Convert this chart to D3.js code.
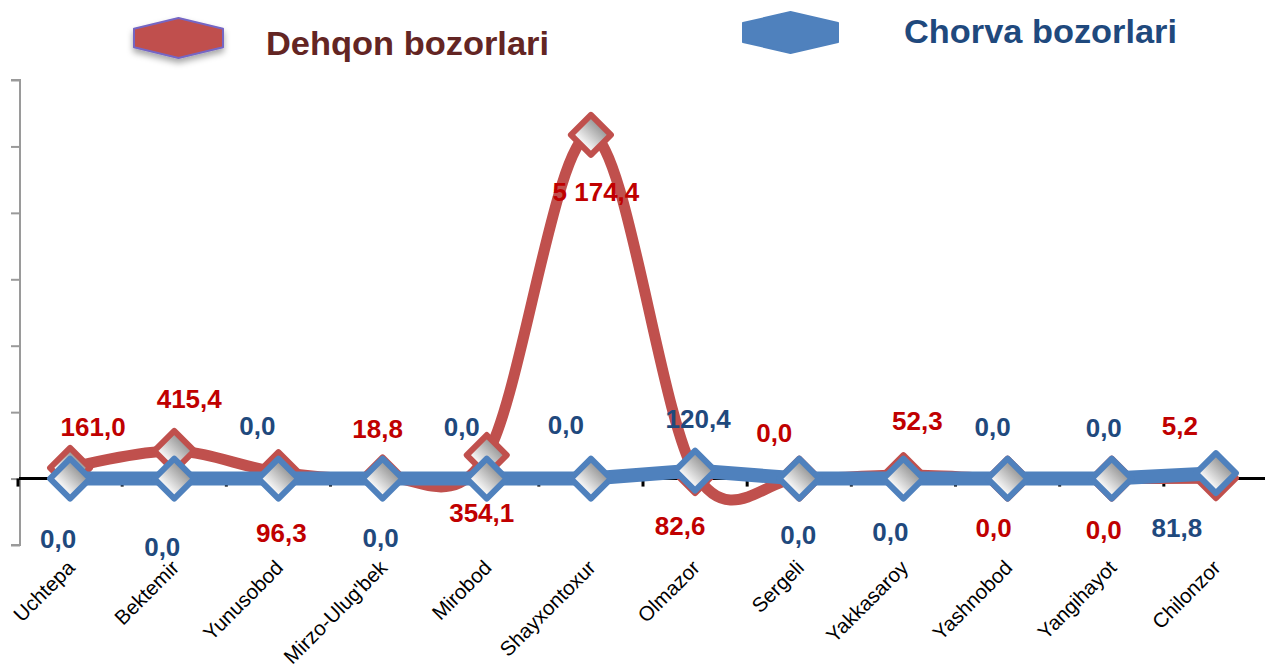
<!DOCTYPE html>
<html>
<head>
<meta charset="utf-8">
<script src="https://cdn.jsdelivr.net/npm/d3@7/dist/d3.min.js"></script>
<style>
  html, body { margin: 0; padding: 0; background: #ffffff; }
  svg { display: block; }
  text { font-family: "Liberation Sans", Arial, sans-serif; }
</style>
</head>
<body>
<svg id="chart" width="1265" height="666"></svg>
<script>
// ---------- data ----------
const categories = ["Uchtepa", "Bektemir", "Yunusobod", "Mirzo-Ulug'bek", "Mirobod", "Shayxontoxur",
                    "Olmazor", "Sergeli", "Yakkasaroy", "Yashnobod", "Yangihayot", "Chilonzor"];
const seriesNames = ["Dehqon bozorlari", "Chorva bozorlari"];
const dehqonValues = [161.0, 415.4, 96.3, 18.8, 354.1, 5174.4, 82.6, 0.0, 52.3, 0.0, 0.0, 5.2];
const chorvaValues = [0.0, 0.0, 0.0, 0.0, 0.0, 0.0, 120.4, 0.0, 0.0, 0.0, 0.0, 81.8];
const yTicks = [-1000, 0, 1000, 2000, 3000, 4000, 5000, 6000];

// label placement (offset from the data point, px)
const dehqonLabelOffsets = [[23,-41],[15,-52],[3,60],[-5,-49],[-5,58],[5,57],[-15,53],[-25,-46],[14,-54],[-14,49],[-8,51],[-36,-53]];
const chorvaLabelOffsets = [[-12,60],[-12,68],[-21,-53],[-2,59],[-25,-52],[-25,-54],[3,-52],[-1,56],[-13,53],[-15,-52],[-8,-51],[-39,55]];

// ---------- setup ----------
const svg = d3.select("#chart");
const RED = "#c0504d", BLUE = "#4f81bd";
const fmt = d3.formatLocale({decimal: ",", thousands: " ", grouping: [3], currency: ["", ""]}).format(",.1f");

const x = d3.scaleBand().domain(categories).range([18, 1268]).padding(0);
const cx = d => x(d) + x.bandwidth() / 2;
const y = d3.scaleLinear().domain([-1000, 6000]).range([545, 80]);

const defs = svg.append("defs");
const grad = defs.append("linearGradient").attr("id", "mfill")
  .attr("x1", "0%").attr("y1", "100%").attr("x2", "100%").attr("y2", "0%");
grad.append("stop").attr("offset", "0%").attr("stop-color", "#ffffff");
grad.append("stop").attr("offset", "30%").attr("stop-color", "#f6f6f6");
grad.append("stop").attr("offset", "100%").attr("stop-color", "#5c5c5c");
const sh = defs.append("filter").attr("id", "shadow").attr("x", "-20%").attr("y", "-20%").attr("width", "140%").attr("height", "160%");
sh.append("feDropShadow").attr("dx", 0).attr("dy", 4).attr("stdDeviation", 3).attr("flood-color", "#000").attr("flood-opacity", 0.35);

// ---------- y axis ----------
const yAxis = d3.axisLeft(y).tickValues(yTicks).tickSize(9).tickFormat("");
const gy = svg.append("g").attr("transform", "translate(20,0)").call(yAxis);
gy.select(".domain").attr("stroke", "#9a9a9a").attr("stroke-width", 2).attr("d", `M-9,${y(-1000)}H0V${y(6000)}H-9`);
gy.selectAll(".tick line").attr("stroke", "#9a9a9a").attr("stroke-width", 2);

// ---------- x axis at zero ----------
const xAxis = d3.axisBottom(x).tickSize(0).tickFormat("");
const gx = svg.append("g").attr("transform", `translate(0,${y(0)})`).call(xAxis);
gx.select(".domain").attr("stroke", "#000").attr("stroke-width", 3).attr("d", "M19,0H1265");
// band boundary tick marks
svg.append("g").selectAll("line").data(categories).join("line")
  .attr("x1", d => x(d)).attr("x2", d => x(d))
  .attr("y1", y(0)).attr("y2", y(0) + 8)
  .attr("stroke", "#000").attr("stroke-width", 3);

// category labels
svg.append("g").selectAll("text").data(categories).join("text")
  .attr("transform", d => `translate(${cx(d) + 6},${569}) rotate(-45)`)
  .attr("text-anchor", "end")
  .attr("font-size", 20.5)
  .attr("fill", "#000")
  .text(d => d);

// ---------- lines ----------
const redLine = d3.line().x((d, i) => cx(categories[i])).y(d => y(d)).curve(d3.curveCardinal.tension(0));
const blueLine = d3.line().x((d, i) => cx(categories[i])).y(d => y(d));

const diamond = r => `M0,${-r}L${r},0L0,${r}L${-r},0Z`;

svg.append("path").datum(dehqonValues).attr("d", redLine)
  .attr("fill", "none").attr("stroke", RED).attr("stroke-width", 11).attr("stroke-linejoin", "round");
svg.append("g").selectAll("path").data(dehqonValues).join("path")
  .attr("transform", (d, i) => `translate(${cx(categories[i])},${y(d)})`)
  .attr("d", diamond(20))
  .attr("fill", "url(#mfill)").attr("stroke", RED).attr("stroke-width", 6).attr("stroke-linejoin", "round");

svg.append("path").datum(chorvaValues).attr("d", blueLine)
  .attr("fill", "none").attr("stroke", BLUE).attr("stroke-width", 14).attr("stroke-linejoin", "round");
svg.append("g").selectAll("path").data(chorvaValues).join("path")
  .attr("transform", (d, i) => `translate(${cx(categories[i])},${y(d)})`)
  .attr("d", diamond(20))
  .attr("fill", "url(#mfill)").attr("stroke", BLUE).attr("stroke-width", 6).attr("stroke-linejoin", "round");

// ---------- data labels ----------
svg.append("g").selectAll("text").data(dehqonValues).join("text")
  .attr("x", (d, i) => cx(categories[i]) + dehqonLabelOffsets[i][0])
  .attr("y", (d, i) => y(d) + dehqonLabelOffsets[i][1])
  .attr("dy", "0.36em").attr("text-anchor", "middle")
  .attr("font-size", 26).attr("font-weight", "bold").attr("fill", "#c00000")
  .text(d => fmt(d));
svg.append("g").selectAll("text").data(chorvaValues).join("text")
  .attr("x", (d, i) => cx(categories[i]) + chorvaLabelOffsets[i][0])
  .attr("y", (d, i) => y(d) + chorvaLabelOffsets[i][1])
  .attr("dy", "0.36em").attr("text-anchor", "middle")
  .attr("font-size", 26).attr("font-weight", "bold").attr("fill", "#1f497d")
  .text(d => fmt(d));

// ---------- legend ----------
const hex = (x0, y0, w, h) => {
  const m = h * 0.27;
  return `M${x0},${y0 + m}L${x0 + w / 2},${y0}L${x0 + w},${y0 + m}L${x0 + w},${y0 + h - m}L${x0 + w / 2},${y0 + h}L${x0},${y0 + h - m}Z`;
};
const legend = svg.append("g");
legend.append("path").attr("d", hex(134, 18, 89, 40))
  .attr("fill", RED).attr("stroke", "#7566c4").attr("stroke-width", 2).attr("stroke-linejoin", "round")
  .attr("filter", "url(#shadow)");
legend.append("text").attr("x", 266).attr("y", 55)
  .attr("font-size", 33).attr("font-weight", "bold").attr("fill", "#632523")
  .attr("textLength", 283).attr("lengthAdjust", "spacingAndGlyphs")
  .text(seriesNames[0]);
legend.append("path").attr("d", hex(743, 12, 95, 41))
  .attr("fill", BLUE).attr("stroke", BLUE).attr("stroke-width", 2).attr("stroke-linejoin", "round");
legend.append("text").attr("x", 904).attr("y", 43)
  .attr("font-size", 33).attr("font-weight", "bold").attr("fill", "#1f497d")
  .attr("textLength", 273).attr("lengthAdjust", "spacingAndGlyphs")
  .text(seriesNames[1]);
</script>
</body>
</html>
